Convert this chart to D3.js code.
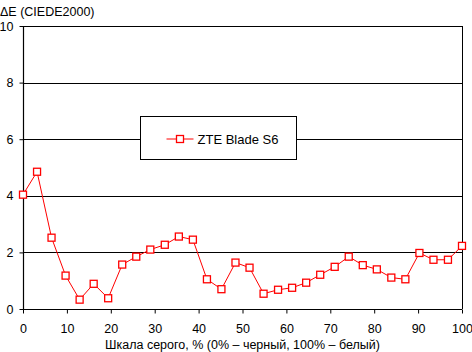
<!DOCTYPE html>
<html>
<head>
<meta charset="utf-8">
<script src="https://cdn.jsdelivr.net/npm/d3@7"></script>
<style>
  body { margin: 0; background: #fff; }
  text { font-family: "Liberation Sans", Arial, sans-serif; font-size: 12.5px; fill: #000; }
</style>
</head>
<body>
<div id="chart"></div>
<script>
// grey scale steps (%) and measured deltaE
const grayLevels = [0, 3.2, 6.5, 9.7, 12.9, 16.1, 19.4, 22.6, 25.8, 29.0, 32.3, 35.5, 38.7, 41.9, 45.2, 48.4,
    51.6, 54.8, 58.1, 61.3, 64.5, 67.7, 71.0, 74.2, 77.4, 80.6, 83.9, 87.1, 90.3, 93.5, 96.8, 100];
const deltaE = [4.04, 4.85, 2.52, 1.18, 0.33, 0.89, 0.38, 1.57, 1.85, 2.10, 2.27, 2.56, 2.45, 1.05, 0.70, 1.64,
    1.46, 0.54, 0.68, 0.75, 0.93, 1.21, 1.49, 1.85, 1.55, 1.40, 1.11, 1.05, 1.98, 1.74, 1.74, 2.23];
const xTicks = [0, 10, 20, 30, 40, 50, 60, 70, 80, 90, 100];
const yTicks = [0, 2, 4, 6, 8, 10];
const seriesName = "ZTE Blade S6";
const yTitle = "ΔE (CIEDE2000)";
const xTitle = "Шкала серого, % (0% – черный, 100% – белый)";

const data = grayLevels.map((g, i) => ({ x: g, y: deltaE[i] }));

let dimensions = {
    width: 472,
    height: 352,
    margin: { top: 26, right: 10, bottom: 43, left: 23 },
}
dimensions.boundedWidth = dimensions.width - dimensions.margin.left - dimensions.margin.right;
dimensions.boundedHeight = dimensions.height - dimensions.margin.top - dimensions.margin.bottom;

const xScale = d3.scaleLinear().domain([0, 100]).range([0, dimensions.boundedWidth]);
const yScale = d3.scaleLinear().domain([0, 10]).range([dimensions.boundedHeight, 0]);

const wrapper = d3.select("#chart").append("svg")
    .attr("width", dimensions.width)
    .attr("height", dimensions.height)

const bounds = wrapper.append("g")
    .attr("transform", `translate(${dimensions.margin.left},${dimensions.margin.top})`)

//GRIDLINES
bounds.append("g")
    .selectAll("line")
    .data(yTicks.filter(d => d > 0))
    .enter()
    .append("line")
    .attr("x1", 0)
    .attr("x2", dimensions.boundedWidth)
    .attr("y1", d => Math.round(yScale(d)) + 0.5)
    .attr("y2", d => Math.round(yScale(d)) + 0.5)
    .attr("stroke", "#000")

//RIGHT BORDER
bounds.append("line")
    .attr("x1", dimensions.boundedWidth + 0.5)
    .attr("x2", dimensions.boundedWidth + 0.5)
    .attr("y1", 0)
    .attr("y2", dimensions.boundedHeight)
    .attr("stroke", "#000")

//AXES
const yAxis = d3.axisLeft(yScale).tickValues(yTicks).tickSize(4).tickPadding(6);
const yAxisG = bounds.append("g").attr("transform", "translate(0.5,0)").call(yAxis);

const xAxis = d3.axisBottom(xScale).tickValues(xTicks).tickSize(4).tickPadding(11);
const xAxisG = bounds.append("g").attr("transform", `translate(0,${dimensions.boundedHeight + 0.5})`).call(xAxis);

[yAxisG, xAxisG].forEach(g => {
    g.select(".domain").attr("stroke", "#000").attr("stroke-width", 1.2);
    g.selectAll(".tick line").attr("stroke", "#000");
    g.selectAll("text").style("font-family", "'Liberation Sans', Arial, sans-serif").style("font-size", "12.5px").attr("fill", "#000");
})
yAxisG.select(".domain").attr("d", `M0,0V${dimensions.boundedHeight}`);
xAxisG.select(".domain").attr("d", `M0,0H${dimensions.boundedWidth}`);

//LINE
const line = d3.line().x(d => xScale(d.x)).y(d => yScale(d.y));
bounds.append("path")
    .datum(data)
    .attr("fill", "none")
    .attr("stroke", "#ff0000")
    .attr("stroke-width", 1)
    .attr("d", line)

//MARKERS
const markerSize = 7;
bounds.append("g")
    .selectAll("rect")
    .data(data)
    .enter()
    .append("rect")
    .attr("x", d => xScale(d.x) - markerSize / 2)
    .attr("y", d => yScale(d.y) - markerSize / 2)
    .attr("width", markerSize)
    .attr("height", markerSize)
    .attr("fill", "#fff")
    .attr("stroke", "#ff0000")
    .attr("stroke-width", 1.3)

//LEGEND
const legend = wrapper.append("g").attr("transform", "translate(140.5,116.5)");
legend.append("rect")
    .attr("width", 156)
    .attr("height", 43)
    .attr("fill", "#fff")
    .attr("stroke", "#000")
legend.append("line")
    .attr("x1", 26).attr("x2", 53)
    .attr("y1", 22.5).attr("y2", 22.5)
    .attr("stroke", "#ff0000")
legend.append("rect")
    .attr("x", 36).attr("y", 19)
    .attr("width", markerSize).attr("height", markerSize)
    .attr("fill", "#fff")
    .attr("stroke", "#ff0000")
    .attr("stroke-width", 1.3)
legend.append("text")
    .attr("x", 57)
    .attr("y", 27)
    .style("font-size", "13px")
    .text(seriesName)

//TITLES
wrapper.append("text")
    .attr("x", 0)
    .attr("y", 16)
    .text(yTitle)

wrapper.append("text")
    .attr("x", dimensions.margin.left + dimensions.boundedWidth / 2)
    .attr("y", 349)
    .attr("text-anchor", "middle")
    .text(xTitle)
</script>
</body>
</html>
